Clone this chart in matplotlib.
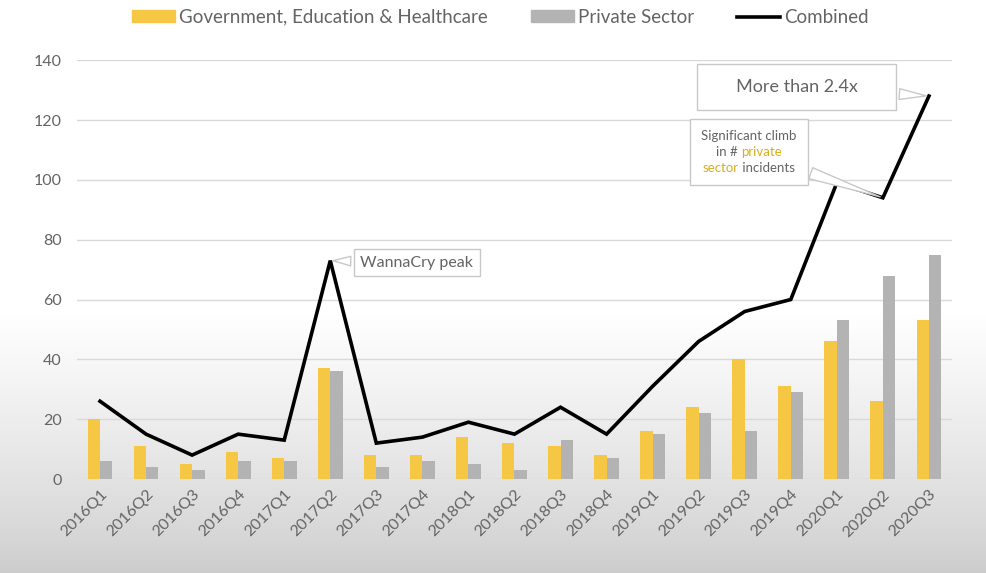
import numpy as np
import matplotlib
matplotlib.use("Agg")
import matplotlib.pyplot as plt
from matplotlib.patches import Patch
from matplotlib.lines import Line2D
from matplotlib.offsetbox import TextArea, HPacker, VPacker, AnnotationBbox

plt.rcParams['font.family'] = ['Lato', 'DejaVu Sans']

quarters = ["2016Q1", "2016Q2", "2016Q3", "2016Q4", "2017Q1", "2017Q2", "2017Q3",
            "2017Q4", "2018Q1", "2018Q2", "2018Q3", "2018Q4", "2019Q1", "2019Q2",
            "2019Q3", "2019Q4", "2020Q1", "2020Q2", "2020Q3"]
gov_edu_health = [20, 11, 5, 9, 7, 37, 8, 8, 14, 12, 11, 8, 16, 24, 40, 31, 46, 26, 53]
private_sector = [6, 4, 3, 6, 6, 36, 4, 6, 5, 3, 13, 7, 15, 22, 16, 29, 53, 68, 75]
combined = [26, 15, 8, 15, 13, 73, 12, 14, 19, 15, 24, 15, 31, 46, 56, 60, 99, 94, 128]

yellow = "#f6c744"
grey = "#b3b3b3"
text_grey = "#646464"

fig = plt.figure(figsize=(9.87, 5.73), dpi=100)

# background: white on top fading to light grey at the bottom
bg = fig.add_axes([0, 0, 1, 1], zorder=-10)
ramp = np.clip(np.linspace(0, 1, 400) / 0.45, 0, 1)  # 0 at bottom -> 1 at 45% height
shade = 0.80 + 0.20 * ramp ** 0.8
img = np.repeat(shade[:, None, None], 3, axis=2)
bg.imshow(img, origin="lower", aspect="auto", extent=[0, 1, 0, 1])
bg.axis("off")

ax = fig.add_axes([0.078, 0.164, 0.8865, 0.731])
ax.set_facecolor("none")

x = np.arange(len(quarters))
w = 0.27
ax.bar(x - w / 2, gov_edu_health, width=w, color=yellow, zorder=2)
ax.bar(x + w / 2, private_sector, width=w, color=grey, zorder=2)
ax.plot(x, combined, color="black", lw=2.6, zorder=3, solid_joinstyle="miter")

ax.set_xlim(-0.5, len(quarters) - 0.5)
ax.set_ylim(0, 140)
ax.set_yticks(range(0, 141, 20))
ax.grid(axis="y", color="#d9d9d9", lw=1, zorder=0)
for s in ax.spines.values():
    s.set_visible(False)
ax.tick_params(axis="both", length=0, colors=text_grey, labelsize=11.5)
ax.tick_params(axis="y", pad=11)
ax.set_xticks(x)
ax.set_xticklabels(quarters, rotation=45, ha="right", rotation_mode="anchor")
ax.tick_params(axis="x", pad=6)

# callouts
wedge = dict(arrowstyle="wedge,tail_width=0.6,shrink_factor=0.5", fc="white", ec="#c8c8c8", lw=1)

ax.annotate("WannaCry peak", xy=(5, 73), xytext=(6.88, 72.3), ha="center", va="center",
            fontsize=11.5, color=text_grey,
            bbox=dict(boxstyle="square,pad=0.4", fc="white", ec="#c8c8c8", lw=1),
            arrowprops=wedge, zorder=5)
ax.annotate("     More than 2.4x     ", xy=(18, 128), xytext=(15.13, 131), ha="center", va="center",
            fontsize=13, color=text_grey,
            bbox=dict(boxstyle="square,pad=0.85", fc="white", ec="#c8c8c8", lw=1),
            arrowprops=wedge, zorder=5)

gold = "#d9ae1c"
fs = 9.5
lines = [
    [("Significant climb", text_grey)],
    [("in # ", text_grey), ("private", gold)],
    [("sector", gold), (" incidents", text_grey)],
]
rows = []
for parts in lines:
    areas = [TextArea(t, textprops=dict(color=c, fontsize=fs)) for t, c in parts]
    rows.append(HPacker(children=areas, align="baseline", pad=0, sep=0))
pack = VPacker(children=rows, align="center", pad=0, sep=3)
ab = AnnotationBbox(pack, xy=(17, 94), xybox=(14.09, 109.3), xycoords="data",
                    boxcoords="data", pad=0.8,
                    bboxprops=dict(boxstyle="square,pad=0.8", fc="white", ec="#c8c8c8", lw=1),
                    arrowprops=wedge, zorder=5)
ax.add_artist(ab)

handles = [Patch(color=yellow), Patch(color=grey), Line2D([], [], color="black", lw=2.6)]
fig.legend(handles, ["Government, Education & Healthcare", "Private Sector", "Combined"],
           loc="center", bbox_to_anchor=(0.507, 0.97), ncol=3, frameon=False,
           fontsize=13.5, labelcolor=text_grey, handlelength=2.3, handleheight=0.55,
           handletextpad=0.2, columnspacing=2.3)

fig.savefig("out.png", dpi=100)
